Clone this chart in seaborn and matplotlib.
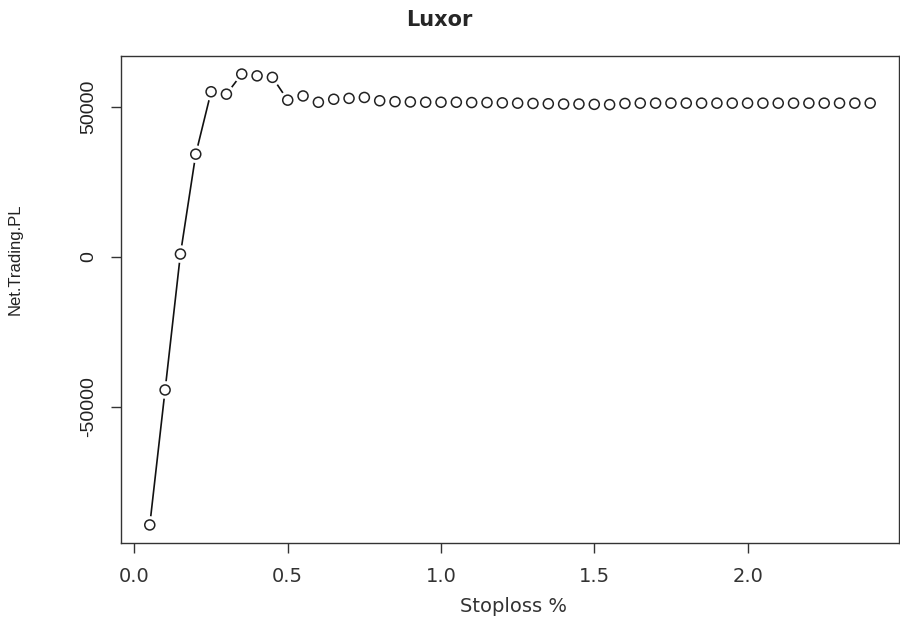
import matplotlib
matplotlib.use("Agg")
import matplotlib.pyplot as plt
import seaborn as sns
import pandas as pd

stoploss = [0.05, 0.10, 0.15, 0.20, 0.25, 0.30, 0.35, 0.40, 0.45, 0.50,
            0.55, 0.60, 0.65, 0.70, 0.75, 0.80, 0.85, 0.90, 0.95, 1.00,
            1.05, 1.10, 1.15, 1.20, 1.25, 1.30, 1.35, 1.40, 1.45, 1.50,
            1.55, 1.60, 1.65, 1.70, 1.75, 1.80, 1.85, 1.90, 1.95, 2.00,
            2.05, 2.10, 2.15, 2.20, 2.25, 2.30, 2.35, 2.40]
net_pl = [-89300, -44300, 1000, 34300, 55100, 54300, 61000, 60400, 59900, 52300,
          53700, 51600, 52600, 52900, 53200, 52100, 51800, 51700, 51600, 51600,
          51600, 51500, 51500, 51400, 51300, 51200, 51100, 51000, 51000, 50900,
          50800, 51200, 51300, 51300, 51300, 51300, 51300, 51300, 51300, 51300,
          51300, 51300, 51300, 51300, 51300, 51300, 51300, 51300]
x_ticks = [0.0, 0.5, 1.0, 1.5, 2.0]
x_tick_labels = ["0.0", "0.5", "1.0", "1.5", "2.0"]
y_ticks = [-50000, 0, 50000]
y_tick_labels = ["-50000", "0", "50000"]

df = pd.DataFrame({"Stoploss": stoploss, "Net.Trading.PL": net_pl})

sns.set_style("white")
fig = plt.figure(figsize=(9, 6.19), dpi=100)
ax = fig.add_axes([0.1344, 0.1228, 0.8645, 0.7867])

sns.lineplot(data=df, x="Stoploss", y="Net.Trading.PL", ax=ax, color="#111111",
             linewidth=1.2, zorder=1, estimator=None, sort=False)
# white halos to create the gaps of an R type="b" plot
sns.scatterplot(data=df, x="Stoploss", y="Net.Trading.PL", ax=ax, s=160,
                color="white", edgecolor="none", linewidth=0, zorder=2)
sns.scatterplot(data=df, x="Stoploss", y="Net.Trading.PL", ax=ax, s=52,
                facecolor="none", edgecolor="#222222", linewidth=1.1, zorder=3)

xmin, xmax = min(stoploss), max(stoploss)
ymin, ymax = min(net_pl), max(net_pl)
xpad = (xmax - xmin) * 0.04
ypad = (ymax - ymin) * 0.04
ax.set_xlim(xmin - xpad, xmax + xpad)
ax.set_ylim(ymin - ypad, ymax + ypad)

ax.set_xticks(x_ticks)
ax.set_xticklabels(x_tick_labels, fontfamily="DejaVu Sans", fontsize=14, color="#333333")
ax.set_yticks(y_ticks)
ax.set_yticklabels(y_tick_labels, fontfamily="Liberation Sans", fontsize=14,
                   rotation=90, va="center", color="#222222")
ax.tick_params(axis="both", direction="out", length=7, width=1, color="#333333",
               bottom=True, left=True)
ax.tick_params(axis="x", pad=10)
ax.tick_params(axis="y", pad=10)

for sp in ax.spines.values():
    sp.set_visible(True)
    sp.set_color("#333333")
    sp.set_linewidth(1.0)

ax.set_xlabel("Stoploss %", fontfamily="DejaVu Sans", fontsize=14, color="#333333",
              va="center")
ax.xaxis.set_label_coords(0.505, -0.131)
ax.set_ylabel("Net.Trading.PL", fontfamily="Liberation Sans", fontsize=12,
              color="#222222", va="center")
ax.yaxis.set_label_coords(-0.136, 0.583)
fig.text(0.488, 0.967, "Luxor", ha="center", va="center", fontsize=15,
         fontweight="bold", fontfamily="DejaVu Sans")

fig.savefig("out.png", dpi=100)
